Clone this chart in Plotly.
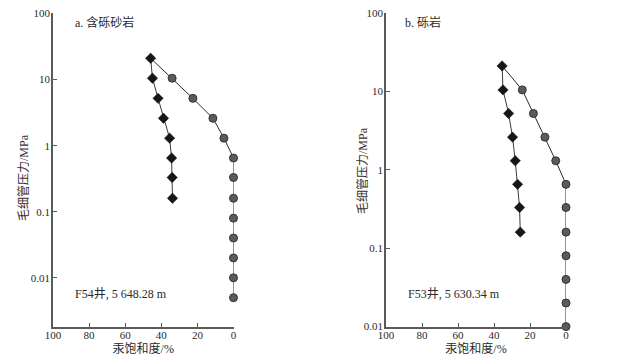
import plotly.graph_objects as go

# ---------------- data ----------------
# Panel a: F54 well, 5 648.28 m (gravelly sandstone)
p_inj_a = [10.5, 5.2, 2.6, 1.3, 0.65, 0.33, 0.16, 0.08, 0.04, 0.02, 0.01, 0.005]
s_inj_a = [34.0, 22.5, 11.4, 5.3, 0, 0, 0, 0, 0, 0, 0, 0]
p_wd_a = [21, 10.5, 5.2, 2.6, 1.3, 0.65, 0.33, 0.16]
s_wd_a = [45.9, 44.9, 41.8, 38.8, 35.4, 34.3, 34.0, 33.8]

# Panel b: F53 well, 5 630.34 m (conglomerate)
p_inj_b = [10.4, 5.2, 2.6, 1.3, 0.65, 0.33, 0.16, 0.08, 0.04, 0.02, 0.01]
s_inj_b = [24.3, 18.1, 11.7, 5.7, 0, 0, 0, 0, 0, 0, 0]
p_wd_b = [21, 10.4, 5.2, 2.6, 1.3, 0.65, 0.33, 0.16]
s_wd_b = [35.5, 35.0, 31.9, 29.7, 28.2, 26.9, 25.8, 25.4]

x_ticks = [100, 80, 60, 40, 20, 0]
y_ticks = [100, 10, 1, 0.1, 0.01]
y_tick_text = ["100", "10", "1", "0.1", "0.01"]

titles = ["a. 含砾砂岩", "b. 砾岩"]
wells = ["F54井, 5 648.28 m", "F53井, 5 630.34 m"]
x_title = "汞饱和度/%"
y_title = "毛细管压力/MPa"

# ---------------- layout helpers ----------------
OFF = 8  # page body margin
W, H = 638 - OFF, 364 - OFF
FONT = "'Liberation Serif', 'Times New Roman', 'Noto Sans CJK SC', serif"
AX_COLOR = "#5a5a5a"
TXT = "#2a2a2a"


def fx(px):
    return (px - OFF) / W


def fy(py):
    return 1 - (py - OFF) / H


fig = go.Figure()

panels = [
    dict(pi=p_inj_a, si=s_inj_a, pw=p_wd_a, sw=s_wd_a, xs="x", ys="y"),
    dict(pi=p_inj_b, si=s_inj_b, pw=p_wd_b, sw=s_wd_b, xs="x2", ys="y2"),
]

for pn in panels:
    # injection curve line (joins the shared top point)
    fig.add_trace(go.Scatter(
        x=[pn["sw"][0]] + pn["si"], y=[pn["pw"][0]] + pn["pi"],
        mode="lines", line=dict(color="#2b2b2b", width=1),
        xaxis=pn["xs"], yaxis=pn["ys"], showlegend=False, cliponaxis=False))
    fig.add_trace(go.Scatter(
        x=pn["si"], y=pn["pi"], mode="markers",
        marker=dict(symbol="circle", size=8, color="#5b5b5b",
                    line=dict(color="#333333", width=1)),
        xaxis=pn["xs"], yaxis=pn["ys"], showlegend=False, cliponaxis=False))
    fig.add_trace(go.Scatter(
        x=pn["sw"], y=pn["pw"], mode="lines+markers",
        line=dict(color="#3a3a3a", width=1),
        marker=dict(symbol="diamond", size=8, color="#161616",
                    line=dict(color="#161616", width=0.5)),
        xaxis=pn["xs"], yaxis=pn["ys"], showlegend=False, cliponaxis=False))


def xaxis(x0, x1, anchor):
    return dict(
        domain=[fx(x0), fx(x1)], range=[100, 0], anchor=anchor, automargin=False,
        tickvals=x_ticks, ticktext=[str(v) for v in x_ticks],
        ticks="inside", ticklen=4, tickcolor=AX_COLOR, tickwidth=1,
        ticklabelstandoff=-3, ticklabeloverflow="allow",
        showline=True, linecolor=AX_COLOR, linewidth=1.5,
        showgrid=False, zeroline=False,
        tickfont=dict(family=FONT, size=11, color=TXT),
        title=dict(text=x_title, font=dict(family=FONT, size=12, color=TXT), standoff=2),
    )


def yaxis(y0, y1, rng, anchor):
    return dict(
        domain=[fy(y1), fy(y0)], type="log", range=rng, anchor=anchor,
        automargin=False,
        tickvals=y_ticks, ticktext=y_tick_text,
        ticks="inside", ticklen=4, tickcolor=AX_COLOR, tickwidth=1,
        ticklabelstandoff=-1, ticklabeloverflow="allow",
        showline=True, linecolor=AX_COLOR, linewidth=1.5,
        showgrid=False, zeroline=False,
        tickfont=dict(family=FONT, size=11, color=TXT),
    )


fig.update_layout(
    width=W, height=H,
    margin=dict(l=0, r=0, t=0, b=0, autoexpand=False),
    paper_bgcolor="white", plot_bgcolor="white",
    font=dict(family=FONT, color=TXT),
    xaxis=xaxis(53, 233.5, "y"),
    yaxis=yaxis(13.4, 326.7, [-2.74, 2.002], "x"),
    xaxis2=xaxis(386, 566, "y2"),
    yaxis2=yaxis(12.6, 326.7, [-2.001, 2.002], "x2"),
)

# y-axis titles (rotated) placed beside each panel
ytitle_pos = [(24, 178), (363, 171)]
for (px, py) in ytitle_pos:
    fig.add_annotation(x=fx(px), y=fy(py), xref="paper", yref="paper",
                       text=y_title, textangle=-90, showarrow=False,
                       xanchor="center", yanchor="middle",
                       font=dict(family=FONT, size=12, color="#3a3030"))

ann_pos = [(73, 22.5, 73, 294), (403, 22.5, 406, 294)]
for (tx, ty, wx, wy), t, w in zip(ann_pos, titles, wells):
    fig.add_annotation(x=fx(tx), y=fy(ty), xref="paper", yref="paper",
                       text=t, showarrow=False, xanchor="left", yanchor="middle",
                       font=dict(family=FONT, size=12, color=TXT))
    fig.add_annotation(x=fx(wx), y=fy(wy), xref="paper", yref="paper",
                       text=w, showarrow=False, xanchor="left", yanchor="middle",
                       font=dict(family=FONT, size=12, color=TXT))

fig.write_html("out.html")
